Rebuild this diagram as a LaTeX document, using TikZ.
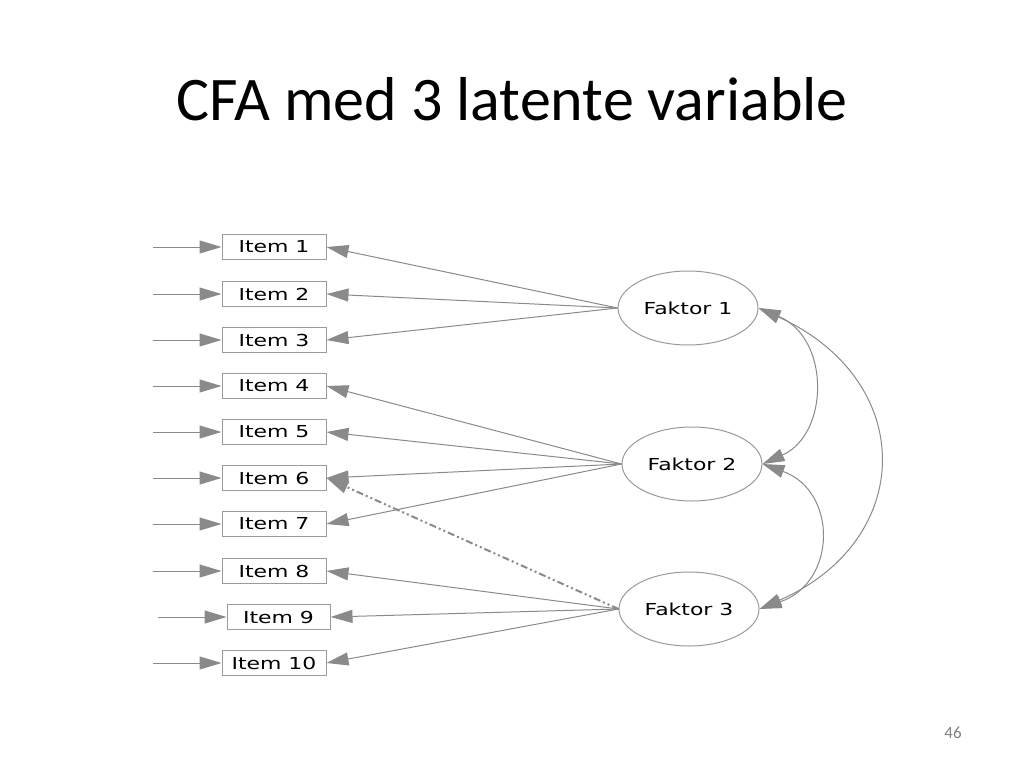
\documentclass[tikz,border=0pt]{standalone}
\usepackage{fontspec}
\setmainfont{Carlito}
\newfontfamily\dfont{DejaVu Sans}[FakeStretch=1.33]
\usetikzlibrary{shapes.geometric,arrows.meta}
\definecolor{lg}{HTML}{8A8A8A}
\definecolor{bx}{HTML}{9A9A9A}
\begin{document}
\begin{tikzpicture}[x=1pt,y=-1pt,
  item/.style={draw=bx,line width=1pt,minimum width=104pt,minimum height=25pt,inner sep=0pt,font=\dfont\fontsize{16.5}{16.5}\selectfont},
  fak/.style={ellipse,draw=bx,line width=1pt,minimum width=140pt,minimum height=74pt,inner sep=0pt,font=\dfont\fontsize{16.5}{16.5}\selectfont},
  arr/.style={draw=lg,line width=1pt,-{Triangle[length=22pt,width=13pt,fill=lg]}},
  darr/.style={draw=lg,line width=1pt,{Triangle[length=22pt,width=13pt,fill=lg]}-{Triangle[length=22pt,width=13pt,fill=lg]}},
  dd/.style={draw=lg,line width=2pt,dash pattern=on 7pt off 3pt on 2pt off 3pt on 2pt off 3pt,-{Triangle[length=22pt,width=13pt,fill=lg]}}]
\useasboundingbox (0,0) rectangle (1024,768);
\node[font=\fontsize{62}{62}\selectfont] (title) at (512,99) {CFA med 3 latente variable};
\node[font=\fontsize{17}{17}\selectfont,text=gray] (pg) at (953,733) {46};
\foreach \i/\y in {1/247,2/294,3/340,4/386,5/432,6/478,7/524,8/571,10/663}{
  \node[item] (i\i) at (274,\y) {Item \i};
  \coordinate (s\i) at (153,\y);
  \draw[arr] (s\i) -- (i\i);
}
\node[item,minimum width=103pt] (i9) at (278.5,617) {Item 9};
\coordinate (s9) at (158,617);
\draw[arr] (s9) -- (i9);
\node[fak] (f1) at (688,308) {Faktor 1};
\node[fak] (f2) at (692,464) {Faktor 2};
\node[fak] (f3) at (689,609) {Faktor 3};
\foreach \i in {1,2,3}{\draw[arr] (f1.west) -- (i\i.east);}
\foreach \i in {4,5,6,7}{\draw[arr] (f2.west) -- (i\i.east);}
\foreach \i in {8,9,10}{\draw[arr] (f3.west) -- (i\i.east);}
\draw[dd] (f3.west) -- (i6.east);
\draw[darr] (f1.east) .. controls +(72,30) and +(67,-30) .. (f2.east);
\draw[darr] (f2.east) .. controls +(75,27) and +(78,-27) .. (f3.east);
\draw[darr] (f1.east) .. controls +(159,72) and +(157,-69) .. (f3.east);
\end{tikzpicture}
\end{document}
